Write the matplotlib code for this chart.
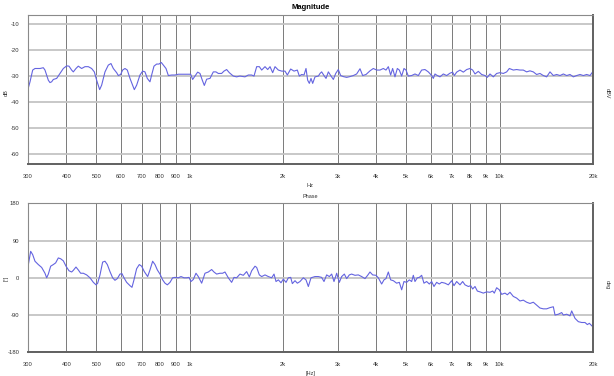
import matplotlib
matplotlib.use("Agg")
import matplotlib.pyplot as plt

plt.rcParams['font.family'] = ['Liberation Sans', 'DejaVu Sans']

# ---------------- data ----------------
mag_freq = [300, 305.2, 311.3, 316.7, 328.7, 336.9, 341.1, 349.7, 354.0, 358.4, 362.9, 372.0, 381.3, 390.9,
            400.7, 407.7, 415.8, 421.0, 429.4, 436.9, 447.9, 459.1, 470.6, 482.4, 492.1, 500.7, 512.0, 519.6,
            532.7, 546.0, 556.9, 566.7, 580.9, 588.1, 598.4, 607.3, 618.0, 628.8, 641.4, 654.2, 662.4, 673.9,
            690.8, 704.6, 717.0, 729.5, 744.1, 753.4, 766.6, 781.9, 795.6, 809.5, 821.7, 838.2, 852.9, 874.3,
            896.1, 918.6, 941.6, 965.2, 989.3, 1006.6, 1021.7, 1039.6, 1060.4, 1078.9, 1097.8, 1114.2, 1133.7,
            1162.1, 1191.2, 1215.0, 1236.3, 1267.2, 1289.4, 1315.2, 1341.5, 1381.9, 1416.5, 1452.0, 1507.1,
            1544.8, 1584.0, 1611.7, 1644.0, 1676.9, 1706.3, 1749.0, 1784.0, 1815.3, 1851.6, 1884.0, 1931.2,
            1979.6, 2029.1, 2064.6, 2116.4, 2169.4, 2223.7, 2257.0, 2296.5, 2336.7, 2371.7, 2401.2, 2431.1,
            2461.4, 2492.2, 2535.8, 2599.3, 2632,
            2664, 2711, 2752, 2800, 2849, 2906, 2957, 3015, 3068, 3129, 3208, 3288, 3371, 3455, 3542, 3613,
            3704, 3815, 3910, 4009, 4109, 4212, 4296, 4372, 4448, 4514, 4593, 4674, 4744, 4827, 4911, 4985,
            5071, 5199, 5329, 5463, 5600, 5740, 5884, 6032, 6107, 6183, 6291, 6417, 6578, 6743, 6912, 7050,
            7138, 7263, 7445, 7633, 7824, 8020, 8181, 8324, 8532, 8746, 8965, 9121, 9304, 9537, 9776, 10021,
            10273, 10530, 10741, 11064, 11342, 11625, 11917, 12216, 12522, 12836, 13157, 13487, 13826, 14173,
            14531, 14896, 15270, 15654, 16045, 16449, 16861, 17283, 17717, 18161, 18615, 19082, 19561, 19953]

mag_db = [-35.5, -32.3, -27.8, -27.2, -27.2, -26.9, -27.8, -31.7, -32.6, -32.3, -31.4, -31.0, -29.1, -27.2,
          -26.2, -26.3, -27.8, -28.5, -27.2, -26.3, -27.2, -26.5, -26.5, -27.2, -28.5, -31.7, -35.3, -33.6,
          -28.5, -25.9, -25.3, -27.2, -28.8, -29.9, -29.5, -27.8, -27.2, -27.8, -31.0, -33.6, -35.3, -33.6,
          -29.7, -28.2, -28.5, -31.0, -32.3, -29.7, -26.3, -25.5, -25.5, -24.9, -25.9, -27.2, -29.9, -29.7,
          -29.7, -29.4, -29.4, -29.4, -29.4, -29.4, -31.4, -30.1, -28.6, -29.1, -31.7, -33.7, -31.3,
          -31.0, -28.5, -28.5, -29.1, -29.1, -28.2, -27.6, -28.8, -30.1, -30.4, -30.1, -30.4,
          -29.7, -29.7, -30.1, -26.5, -26.5, -27.8, -26.5, -27.6, -26.5, -28.8, -26.5, -27.8,
          -28.2, -28.2, -29.7, -27.4, -28.2, -27.8, -30.1, -29.5, -29.7, -27.2, -31.7, -32.9,
          -31.0, -32.9, -30.4, -30.1, -29.1,
          -28.5, -29.9, -31.0, -28.5, -29.9, -31.4, -29.1, -27.6, -29.9, -30.3, -30.6, -30.3, -29.9, -29.3,
          -27.3, -29.9, -29.5, -28.1, -27.2, -27.8, -27.8, -27.2, -27.8, -26.5, -29.7, -27.2, -30.4, -27.2,
          -27.8, -30.1, -27.2, -27.8, -30.1, -29.9, -29.3, -29.9, -27.8, -27.6, -28.5, -29.9, -31.0, -29.3,
          -29.9, -30.4, -29.3, -29.9, -29.0, -28.6, -29.9, -28.6, -27.8, -28.6, -27.6, -27.2, -27.8, -29.3,
          -28.3, -29.5, -29.9, -30.6, -29.3, -30.4, -29.1, -28.8, -29.1, -28.5, -27.2, -27.8, -27.6, -27.8,
          -27.8, -28.5, -28.1, -28.5, -29.5, -29.1, -29.9, -30.4, -28.5, -29.9, -29.5, -29.9, -29.3, -29.9,
          -29.5, -30.4, -29.9, -29.5, -29.9, -29.5, -29.9, -28.5]

ph_freq = [300, 306.7, 311.3, 316.7, 324.6, 332.8, 341.1, 345.4, 349.7, 355.8, 362.9, 369.2, 376.6, 383.2,
           390.9, 398.8, 407.7, 415.8, 421.0, 429.4, 436.9, 444.6, 453.5, 464.8, 476.5, 488.6, 498.4, 504.5,
           513.3, 523.5, 532.7, 542.0, 552.8, 563.9, 573.7, 583.8, 595.5, 604.4, 613.4, 625.7, 641.4, 651.0,
           660.7, 673.9, 687.4, 699.5, 713.4, 731.4, 744.1, 759.0, 772.4, 785.9, 801.6, 817.6, 831.9, 846.6,
           863.5, 880.8, 896.1, 918.6, 937.0, 958.1, 977.3, 994.4, 1009.2, 1026.8, 1047.3, 1065.6, 1092.4,
           1119.8, 1147.8, 1176.5, 1197.1, 1221.1, 1251.6, 1276.7, 1299.0, 1331.5, 1364.9, 1389.1, 1416.5,
           1452.0, 1488.6, 1525.9, 1556.7, 1584.0, 1623.7, 1644.0, 1676.9, 1706.3, 1749.0, 1792.9, 1837.8,
           1870.0, 1898.0, 1931.2, 1969.8, 2004.1, 2044.3, 2080.0, 2116.4, 2142.8, 2185.6, 2223.7, 2268.2,
           2325.1, 2371.7, 2413.1, 2461.4, 2535.8, 2599.3,
           2664, 2711, 2765, 2821, 2870, 2920, 2979, 3038, 3091, 3153, 3208, 3272, 3329, 3413, 3498, 3586,
           3676, 3749, 3815, 3891, 3989, 4058, 4160, 4233, 4296, 4372, 4448, 4538, 4650, 4744, 4827, 4911,
           5009, 5109, 5199, 5264, 5329, 5422, 5503, 5600, 5697, 5812, 5928, 6032, 6137, 6260, 6385, 6497,
           6660, 6827, 6998, 7120, 7263, 7445, 7594, 7727, 7922, 8060, 8181, 8324, 8470, 8638, 8854, 9077,
           9304, 9490, 9608, 9776, 9972, 10146, 10401, 10583, 10794, 11064, 11342, 11625, 11917, 12216,
           12522, 12836, 13157, 13487, 13826, 14173, 14531, 14896, 15082, 15460, 15848, 16045, 16449,
           16861, 17070, 17499, 17937, 18387, 18847, 19177, 19464, 19953]

ph_deg = [23, 64, 56, 40, 32, 25, 11, 0, 9, 28, 32, 36, 48, 46,
          41, 28, 17, 14, 18, 26, 19, 11, 11, 7, 0, -11, -17, -13,
          7, 38, 40, 32, 15, 0, -6, -2, 9, 10, 0, -11, -19, -23,
          -5, 22, 32, 28, 15, 3, 19, 40, 32, 19, 9, -5, -13, -17,
          -11, 0, 1, 0, 3, 0, 0, 1, -9, -4, 11, 3, -13,
          11, 14, 20, 14, 9, 11, 11, 14, 0, -11, 1, 0,
          9, 6, 15, 2, 17, 28, 25, 7, 3, 7, 3, 0,
          9, -9, -5, -12, -3, -11, 0, 1, -14, -7, -13, -9,
          0, -5, -21, 0, 3, 3,
          1, -9, 7, 3, 9, -9, 11, -11, 3, 9, -2, 7, 9, 6, 7, 3,
          -2, 6, 14, 7, 6, 0, -15, -5, -2, 14, -5, -7, -13, -11, -29, -9,
          -11, -5, -9, 6, -9, 0, 1, 6, -13, -9, -15, -9, -21, -11, -15, -11,
          -13, -17, -7, -19, -9, -17, -9, -17, -21, -19, -27, -21, -32, -34, -37, -34,
          -35, -32, -37, -24, -29, -40, -37, -41, -35, -45, -49, -56, -54, -59,
          -62, -59, -66, -73, -75, -75, -72, -70, -90, -88, -84, -90, -88,
          -92, -80, -98, -106, -108, -108, -113, -110, -118]

xtick_vals = [300, 400, 500, 600, 700, 800, 900, 1000, 2000, 3000, 4000, 5000, 6000, 7000, 8000, 9000, 10000, 20000]
xtick_labels = ['300', '400', '500', '600', '700', '800', '900', '1k', '2k', '3k', '4k', '5k', '6k', '7k',
                '8k', '9k', '10k', '20k']
mag_yticks = [-10, -20, -30, -40, -50, -60]
ph_yticks = [180, 90, 0, -90, -180]

# ---------------- plot ----------------
W, H = 614, 376
fig = plt.figure(figsize=(W / 100, H / 100), dpi=100)
fig.patch.set_facecolor('white')

line_color = '#6464e0'
tick_fs = 4.2
txt_color = '#333333'


def style(ax, yticks, ylim):
    ax.set_xscale('log')
    ax.set_xlim(300, 20000)
    ax.set_ylim(*ylim)
    ax.set_xticks(xtick_vals)
    ax.set_xticklabels(xtick_labels)
    ax.xaxis.set_minor_locator(matplotlib.ticker.NullLocator())
    ax.set_yticks(yticks)
    ax.set_yticklabels([str(v) for v in yticks])
    ax.tick_params(axis='both', length=0, labelsize=tick_fs, colors=txt_color)
    ax.tick_params(axis='x', pad=7)
    ax.tick_params(axis='y', pad=6)
    ax.grid(True, axis='x', color='#7a7a7a', linewidth=0.7)
    ax.grid(True, axis='y', color='#c4c4c4', linewidth=1.3)
    ax.set_axisbelow(True)
    for s in ('left', 'top'):
        ax.spines[s].set_color('#8a8a8a')
        ax.spines[s].set_linewidth(0.8)
    for s in ('right', 'bottom'):
        ax.spines[s].set_color('#606060')
        ax.spines[s].set_linewidth(1.4)


left = 27.7 / W
width = (593 - 27.7) / W
ax1 = fig.add_axes([left, 1 - 164 / H, width, 149 / H])
ax1.plot(mag_freq, mag_db, color=line_color, lw=0.8)
style(ax1, mag_yticks, (-63.8, -6.7))
ax1.set_title('Magnitude', fontsize=5.5, fontweight='bold', pad=4)
ax1.set_xlabel('Hz', fontsize=4, labelpad=3, color=txt_color)
fig.text(6 / W, 1 - 93 / H, 'dB', fontsize=4, rotation=90, ha='center', va='center', color=txt_color)
fig.text(607 / W, 1 - 93 / H, 'dBV', fontsize=4, rotation=270, ha='center', va='center', color=txt_color)

ax2 = fig.add_axes([left, 1 - 352.3 / H, width, 149 / H])
ax2.plot(ph_freq, ph_deg, color=line_color, lw=0.8)
style(ax2, ph_yticks, (-180, 180))
ax2.set_title('Phase', fontsize=4, pad=4, color=txt_color)
ax2.set_xlabel('[Hz]', fontsize=4, labelpad=3, color=txt_color)
fig.text(6 / W, 1 - 278 / H, '[°]', fontsize=4, rotation=90, ha='center', va='center', color=txt_color)
fig.text(607 / W, 1 - 285 / H, 'deg', fontsize=4, rotation=270, ha='center', va='center', color=txt_color)

fig.savefig('out.png', dpi=100, facecolor='white')
